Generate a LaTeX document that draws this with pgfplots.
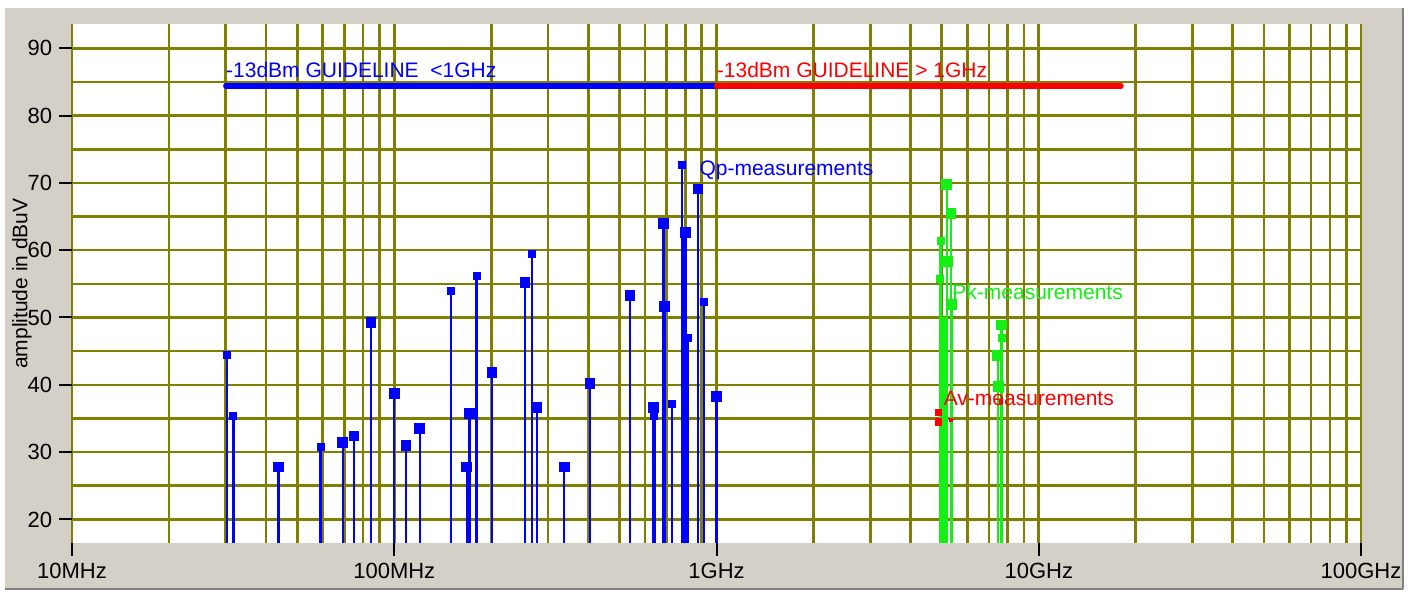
\documentclass[border=0pt]{standalone}
\usepackage{fontspec}
\setmainfont{Liberation Sans}
\usepackage{pgfplots}
\pgfplotsset{compat=1.18}
\definecolor{bggray}{RGB}{212,208,200}
\definecolor{gridolive}{RGB}{128,128,0}
\definecolor{pkgreen}{RGB}{20,240,20}
\definecolor{framegray}{RGB}{128,128,128}
\definecolor{qpblue}{RGB}{0,0,255}
\definecolor{avred}{RGB}{255,0,0}
\begin{document}
\begin{tikzpicture}
\fill[white] (0,0) rectangle (704pt,295.5pt);
\fill[bggray] (2.5pt,1.5pt) rectangle (701pt,291.5pt);
\draw[framegray, line width=1pt] (701.5pt,1pt) -- (701.5pt,291.5pt);
\draw[framegray, line width=1pt] (2.5pt,1pt) -- (701.5pt,1pt);
\begin{axis}[
  at={(36pt,24pt)}, anchor=south west,
  scale only axis, width=644.5pt, height=259.5pt,
  xmode=log, xmin=1e7, xmax=1e11, ymin=16.5, ymax=93.6,
  axis background/.style={fill=white},
  axis line style={draw=none},
  xtick={1e7,1e8,1e9,1e10,1e11},
  xticklabels={10MHz,100MHz,1GHz,10GHz,100GHz},
  minor xtick={2e7,3e7,4e7,5e7,6e7,7e7,8e7,9e7,
               2e8,3e8,4e8,5e8,6e8,7e8,8e8,9e8,
               2e9,3e9,4e9,5e9,6e9,7e9,8e9,9e9,
               2e10,3e10,4e10,5e10,6e10,7e10,8e10,9e10},
  ytick={20,30,40,50,60,70,80,90},
  minor ytick={25,35,45,55,65,75,85},
  grid=both,
  major grid style={gridolive, line width=1.3pt},
  minor grid style={gridolive, line width=1.3pt},
  tick align=outside,
  xtick pos=bottom, ytick pos=left,
  major tick length=6.5pt, minor tick length=0pt,
  tick style={black, line width=1pt},
  /pgf/number format/assume math mode=true,
  ticklabel style={font=\fontsize{11}{13}\selectfont},
  ylabel={amplitude in dBuV},
  every axis y label/.style={at={(axis description cs:-0.0388,0.5)}, anchor=center, rotate=90, font=\fontsize{10.5}{12}\selectfont},
]
% guidelines
\addplot[qpblue, line width=2.7pt, line cap=round] coordinates {(3e7,84.4) (1e9,84.4)};
\addplot[avred, line width=2.7pt, line cap=round] coordinates {(1e9,84.4) (1.8e10,84.4)};
% Qp measurements, big markers
\addplot[ycomb, qpblue, line width=1.2pt, mark=square*, mark size=2.1pt, mark options={draw=none, fill=qpblue}] coordinates {
(4.37e7,27.8) (6.92e7,31.4) (7.5e7,32.4) (8.47e7,49.2) (1.0e8,38.7)
(1.088e8,31.0) (1.2e8,33.5) (1.678e8,27.8) (1.71e8,35.7) (2.01e8,41.8)
(2.545e8,55.2) (2.767e8,36.6) (3.37e8,27.8) (4.05e8,40.2) (5.39e8,53.3)
(6.38e8,36.6) (6.84e8,64.0) (6.9e8,51.6) (8.03e8,62.6) (8.76e8,69.1) (1.0e9,38.3)};
% Qp measurements, small markers
\addplot[ycomb, qpblue, line width=1.2pt, mark=square*, mark size=1.4pt, mark options={draw=none, fill=qpblue}] coordinates {
(3.02e7,44.5) (3.17e7,35.3) (5.91e7,30.7) (1.497e8,53.9) (1.80e8,56.2)
(2.68e8,59.5) (6.42e8,35.4) (7.29e8,37.1) (7.83e8,72.7) (8.14e8,46.9) (9.16e8,52.3)};
\addplot[ycomb, qpblue, line width=1.2pt, no marks] coordinates {(7.9e8,62.0) (7.97e8,60.0) (8.08e8,47.0)};
% Av measurements
\addplot[only marks, avred, mark=square*, mark size=1.6pt, mark options={draw=none, fill=avred}] coordinates {
(4.88e9,35.9) (4.88e9,34.5)};
\addplot[only marks, avred, mark=square*, mark size=0.8pt, mark options={draw=none, fill=avred}] coordinates {
(5.35e9,34.8) (7.62e9,37.4)};
% Pk measurements
\addplot[ycomb, pkgreen, line width=1.2pt, no marks] coordinates {(5.05e9,50) (5.1e9,50) (5.13e9,45)};
\addplot[ycomb, pkgreen, line width=1.2pt, mark=square*, mark size=2.1pt, mark options={draw=none, fill=pkgreen}] coordinates {
(5.18e9,69.7) (5.2e9,58.3) (5.34e9,65.5) (5.36e9,51.9) (7.46e9,44.4) (7.48e9,39.7) (7.67e9,48.9)};
\addplot[ycomb, pkgreen, line width=1.2pt, mark=square*, mark size=1.4pt, mark options={draw=none, fill=pkgreen}] coordinates {
(4.95e9,55.7) (4.96e9,61.4) (7.70e9,46.9)};
% labels
\node[anchor=base west, text=qpblue, inner sep=0pt, font=\fontsize{10.5}{12}\selectfont] at (axis cs:3e7,85.6) {-13dBm GUIDELINE\ \ <1GHz};
\node[anchor=base west, text=avred, inner sep=0pt, font=\fontsize{10.5}{12}\selectfont] at (axis cs:1e9,85.6) {-13dBm GUIDELINE > 1GHz};
\node[anchor=west, text=qpblue, inner sep=0pt, font=\fontsize{10.5}{12}\selectfont] at (axis cs:8.83e8,71.8) {Qp-measurements};
\node[anchor=west, text=pkgreen, inner sep=0pt, font=\fontsize{10.5}{12}\selectfont] at (axis cs:5.38e9,53.8) {Pk-measurements};
\node[anchor=west, text=avred, inner sep=0pt, font=\fontsize{10.5}{12}\selectfont] at (axis cs:5.06e9,38.0) {Av-measurements};
\end{axis}
\end{tikzpicture}
\end{document}
